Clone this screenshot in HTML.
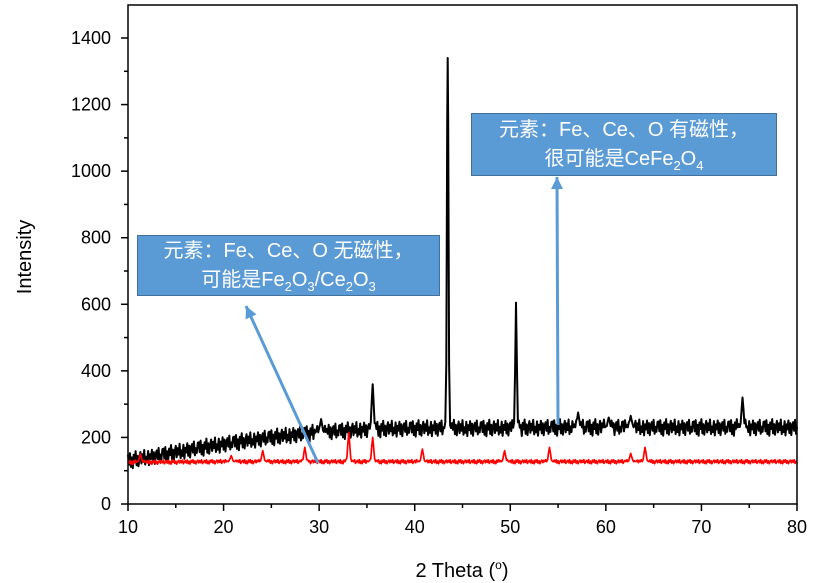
<!DOCTYPE html>
<html><head><meta charset="utf-8"><style>
body{margin:0;background:#fff;width:824px;height:583px;overflow:hidden;font-family:"Liberation Sans","Noto Sans CJK SC",sans-serif}
.box{position:absolute;background:#5B9BD5;border:1px solid #41719C;color:#fff;font-size:20px;line-height:29px;text-align:center;box-sizing:border-box;white-space:nowrap}
sub{font-size:13px}
</style></head><body>
<svg id="c" width="824" height="583" style="position:absolute;left:0;top:0"></svg>
<div class="box" style="left:137px;top:235px;width:303px;height:61px;padding-top:1px">元素：Fe、Ce、O 无磁性，<br>可能是Fe<sub>2</sub>O<sub>3</sub>/Ce<sub>2</sub>O<sub>3</sub></div>
<div class="box" style="left:471px;top:113px;width:306px;height:63px;padding-top:2px">元素：Fe、Ce、O 有磁性，<br>很可能是CeFe<sub>2</sub>O<sub>4</sub></div>
<script>
const xTicks=[10,20,30,40,50,60,70,80];
const yTicks=[0,200,400,600,800,1000,1200,1400];
const blackTrend=[130,142,155,168,180,190,200,208,215,220,224,226,227,228,228,228,229,229,230,230,230,230,230,230,230,230,230,230,230];
const blackNoise=[18,-12,22,-20,8,-25,15,-5,25,-18,10,-22,5,20,-15,12,-8,24,-20,3,-14,19,-24,9,-6,21,-17,13,-23,7,16,-10,23,-19,2,-13,17];
const blackPeaks=[[30.2,255],[35.6,360],[43.45,1340],[50.6,605],[57.1,275],[60.3,260],[62.6,265],[74.3,320]];
const redTrend=[125,126,127,127,127,127,127,127,127,127,127,127,127,127,127];
const redNoise=[4,-3,6,-5,2,-6,5,-1,6,-4,3,-6,1,5,-3,4,-2,6,-5,0];
const redPeaks=[[11.3,150],[20.8,145],[24.1,160],[28.5,170],[33.1,215],[35.6,200],[40.8,165],[49.4,160],[54.1,170],[62.6,152],[64.1,170]];
const L=128,R=797,T=5,B=504;
const sx=v=>L+(v-10)*(R-L)/70, sy=v=>B-v*(B-38)/1400;
const svg=document.getElementById('c'),NS='http://www.w3.org/2000/svg';
function mk(t,a,p){const e=document.createElementNS(NS,t);for(const k in a)e.setAttribute(k,a[k]);(p||svg).appendChild(e);return e;}
function series(trend,noise,peaks,color,name,sw){
  const tr=x=>{const f=(x-10)/70*(trend.length-1),i=Math.min(Math.floor(f),trend.length-2);return trend[i]+(trend[i+1]-trend[i])*(f-i);};
  const pts=[];
  const n=700;
  for(let i=0;i<=n;i++){const x=10+i*70/n;let y=tr(x)+noise[i%noise.length];
    peaks.forEach(p=>{const w=p[1]>500?0.16:0.2;const d=Math.abs(x-p[0]);if(d<w*3){y=Math.max(y,tr(x)+(p[1]-tr(x))*Math.exp(-(d*d)/(w*w*0.5)));}});
    pts.push([x,y]);}
  peaks.forEach(p=>pts.push([p[0],p[1]]));
  pts.sort((a,b)=>a[0]-b[0]);
  const el=mk('polyline',{points:pts.map(p=>sx(p[0]).toFixed(1)+','+sy(p[1]).toFixed(1)).join(' '),fill:'none',stroke:color,'stroke-width':sw,'stroke-linejoin':'round'});
  
  
}
series(blackTrend,blackNoise,blackPeaks,'#000','black-series',2);
series(redTrend,redNoise,redPeaks,'#f00','red-series',1.7);
const frame=mk('rect',{x:L,y:T,width:R-L,height:B-T,fill:'none',stroke:'#000','stroke-width':1.5});


for(let v=10;v<=80;v+=5){const x=sx(v);mk('line',{x1:x,x2:x,y1:B,y2:B+(v%10?4:7),stroke:'#000','stroke-width':1.5});}
xTicks.forEach(v=>{const t=mk('text',{x:sx(v),y:533,'text-anchor':'middle','font-size':18});t.textContent=v;

});
for(let v=0;v<=1400;v+=100){const y=sy(v);mk('line',{x1:L,x2:L-(v%200?4:7),y1:y,y2:y,stroke:'#000','stroke-width':1.5});}
yTicks.forEach(v=>{const t=mk('text',{x:111,y:sy(v)+6,'text-anchor':'end','font-size':18});t.textContent=v;

});
const yt=mk('text',{x:31,y:257,'text-anchor':'middle','font-size':20,transform:'rotate(-90 31 257)'});yt.textContent='Intensity';


const xt=mk('text',{x:462,y:577,'text-anchor':'middle','font-size':20});xt.innerHTML='2 Theta (<tspan dy="-8" font-size="12">o</tspan><tspan dy="8">)</tspan>';


function arrow(x1,y1,x2,y2,name){const g=mk('g',{});
mk('line',{x1,y1,x2,y2,stroke:'#5B9BD5','stroke-width':3},g);
const a=Math.atan2(y2-y1,x2-x1),l=12,w=6;
const p=[[x2,y2],[x2-l*Math.cos(a)+w*Math.sin(a),y2-l*Math.sin(a)-w*Math.cos(a)],[x2-l*Math.cos(a)-w*Math.sin(a),y2-l*Math.sin(a)+w*Math.cos(a)]];
mk('polygon',{points:p.map(q=>q.join(',')).join(' '),fill:'#5B9BD5'},g);}
arrow(318,463,246,306,'arrow-left');
arrow(558,425,557,177,'arrow-right');
</script>
</body></html>
